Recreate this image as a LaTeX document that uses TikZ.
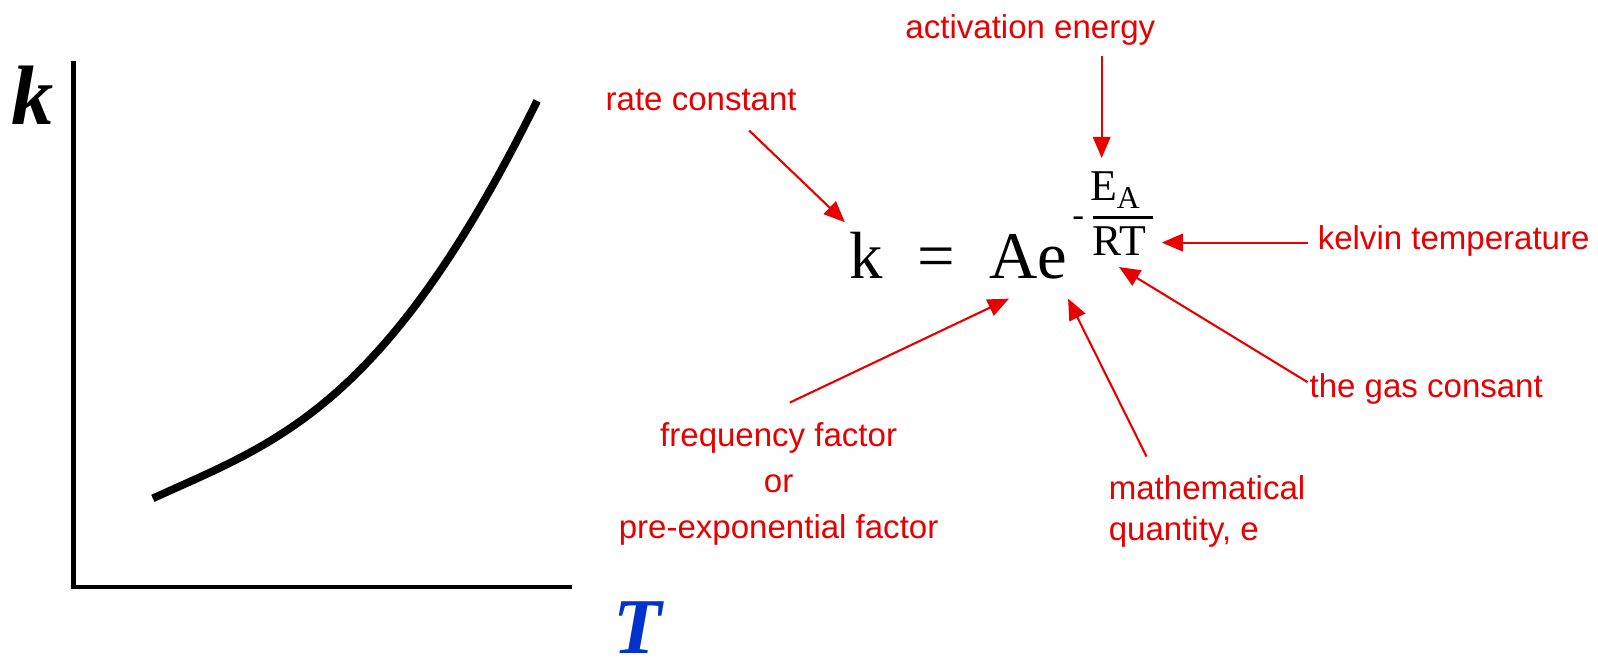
\documentclass[tikz,border=0pt]{standalone}
\usepackage{fontspec}
\setmainfont{Liberation Serif}
\setsansfont{Liberation Sans}
\usetikzlibrary{arrows.meta,positioning}
\definecolor{lblred}{RGB}{232,0,0}
\definecolor{axblue}{RGB}{0,51,204}
\begin{document}
\begin{tikzpicture}[x=0.01019cm,y=-0.01019cm,
  every node/.style={inner sep=0pt,outer sep=0pt},
  lbl/.style={text=lblred,font=\sffamily\fontsize{9.4}{13}\selectfont,align=center},
  eqbig/.style={font=\fontsize{19}{19}\selectfont,anchor=base west},
  eqsmall/.style={font=\fontsize{12.5}{12.5}\selectfont,anchor=base west},
  axlbl/.style={font=\bfseries\itshape\fontsize{24}{24}\selectfont,anchor=base west},
  ann/.style={draw=lblred,line width=0.6pt,-{Triangle[length=6pt,width=5pt]}}]
\useasboundingbox (0,0) rectangle (1568,652);

% k against T
\draw[line width=1.3pt] (72,60) -- (72,576) -- (561,576);
\draw[line width=2.2pt] (150,489) .. controls (270,434) and (377,403) .. (527,99);
\node[axlbl] (klbl) at (11,122) {k};
\node[axlbl,text=axblue,font=\bfseries\itshape\fontsize{22.5}{22.5}\selectfont] (tlbl) at (602,641) {T};

% Arrhenius equation
\node[eqbig] (keq) at (834,273) {k};
\node[eqbig] (eqs) at (900,273) {=};
\node[eqbig] (ae) at (971,273) {Ae};
\node[font=\fontsize{10}{10}\selectfont] (minus) at (1058,218) {-};
\node[eqsmall] (ea) at (1070,197) {E};
\node[font=\fontsize{9}{9}\selectfont,anchor=base west] (asub) at (1096,205) {A};
\draw[line width=0.9pt] (1072,213) -- (1131,213);
\node[eqsmall] (rt) at (1072,251) {RT};

% labels
\node[lbl,anchor=base] (rate) at (688,108) {rate constant};
\node[lbl,anchor=base] (act) at (1011,38) {activation energy};
\node[lbl,anchor=base west] (kelvin) at (1293,245) {kelvin temperature};
\node[lbl,anchor=base west] (gas) at (1285,390) {the gas consant};
\node[lbl,anchor=north west,align=left,font=\sffamily\fontsize{9.4}{11.6}\selectfont] (math) at (1088,467) {mathematical\\quantity, e};
\node[lbl,anchor=north] (freq) at (764,415) {frequency factor\\or\\pre-exponential factor};

% arrow ends
\coordinate (rateS) at (735,128);
\coordinate (rateT) at (829,218);
\coordinate (actS) at (1081,55);
\coordinate (actT) at (1081,155);
\coordinate (kelS) at (1283,238);
\coordinate (kelT) at (1140,238);
\coordinate (gasS) at (1283,375);
\coordinate (gasT) at (1098,262);
\coordinate (mathS) at (1125,448);
\coordinate (mathT) at (1048,293);
\coordinate (freqS) at (775,395);
\coordinate (freqT) at (990,293);

\draw[ann] (rateS) -- (rateT);
\draw[ann] (actS) -- (actT);
\draw[ann] (kelS) -- (kelT);
\draw[ann] (gasS) -- (gasT);
\draw[ann] (mathS) -- (mathT);
\draw[ann] (freqS) -- (freqT);
\end{tikzpicture}
\end{document}
